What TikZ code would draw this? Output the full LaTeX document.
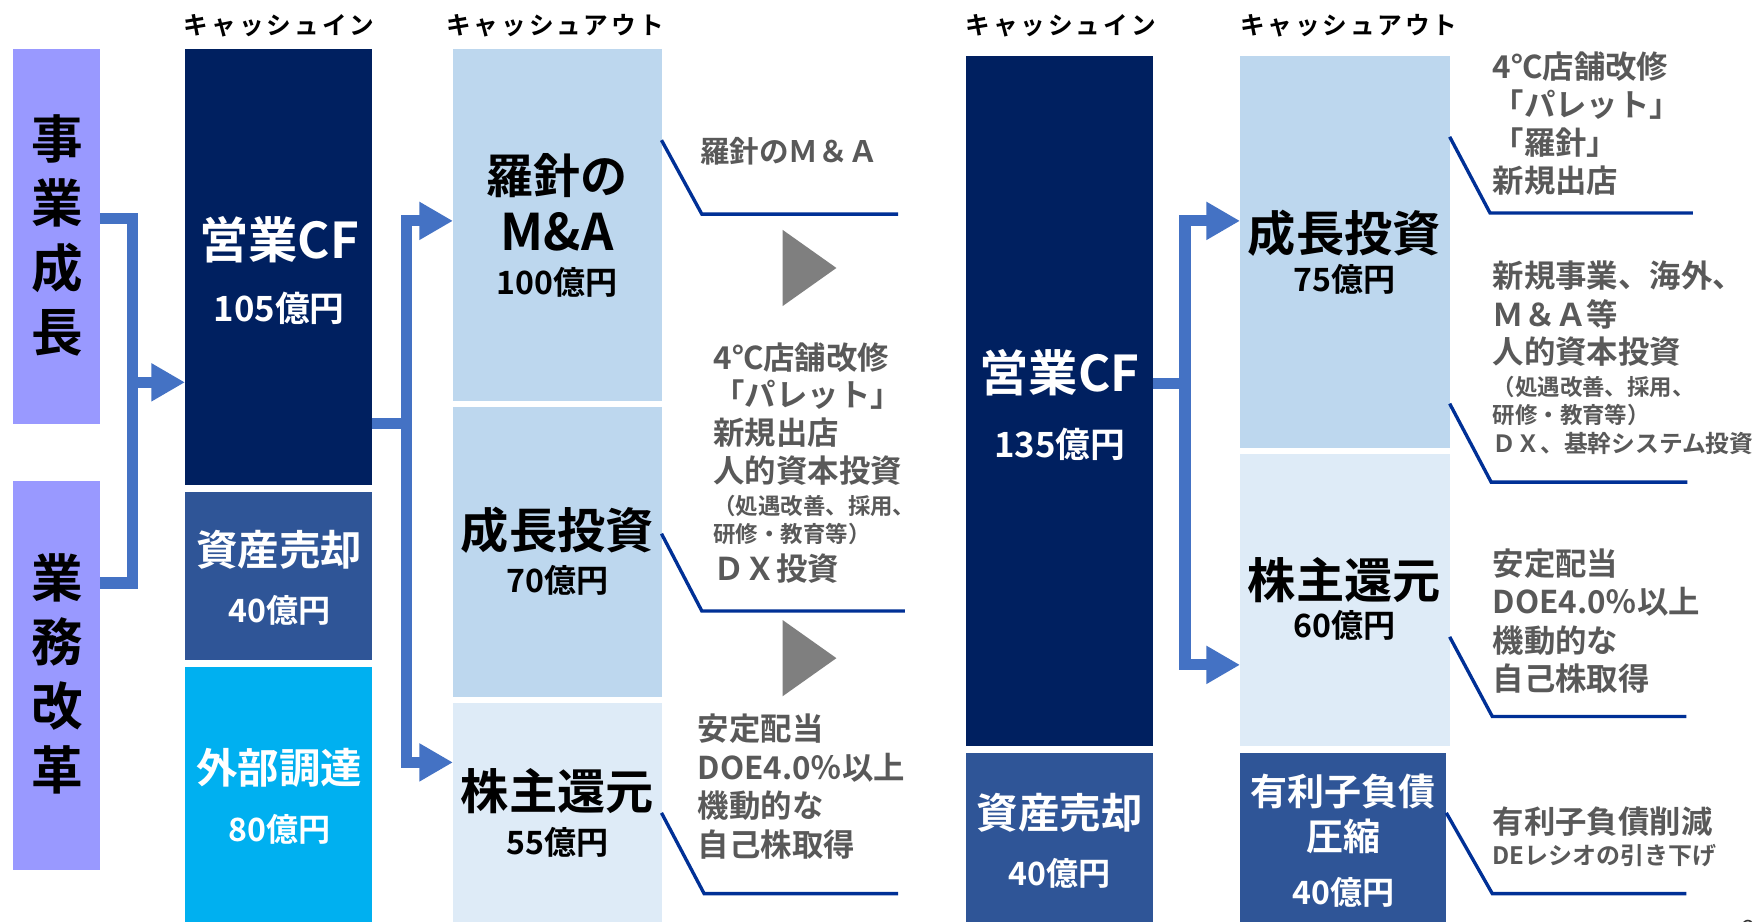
\documentclass[tikz,border=0pt]{standalone}
\usepackage{fontspec}
\setmainfont{Noto Sans CJK JP}[BoldFont={Noto Sans CJK JP Bold}]
\usetikzlibrary{arrows.meta}
\definecolor{purp}{RGB}{153,153,255}
\definecolor{navy}{RGB}{0,32,96}
\definecolor{midb}{RGB}{47,85,151}
\definecolor{cyanb}{RGB}{0,176,240}
\definecolor{lblue}{RGB}{189,215,238}
\definecolor{llblue}{RGB}{222,235,247}
\definecolor{connc}{RGB}{68,114,196}
\definecolor{calloutc}{RGB}{0,48,150}
\definecolor{grayt}{RGB}{89,89,89}
\definecolor{trig}{RGB}{127,127,127}
\newcommand\fsz[1]{\fontsize{#1pt}{#1pt}\selectfont}
\newcommand\mkbox[6]{%
  \pgfmathsetmacro\bw{(#4-#2)/2}%
  \pgfmathsetmacro\bh{(#5-#3)/2}%
  \node[fill=#6, draw=none, minimum width=\bw pt, minimum height=\bh pt, inner sep=0pt, outer sep=0pt] (#1) at ({(#2+#4)/2},{(#3+#5)/2}) {};}
\tikzset{
  conn/.style={draw=connc, line width=5pt, line join=miter},
  tip/.style={-{Triangle[length=15pt,width=16pt]}},
  callout/.style={draw=calloutc, line width=1.5pt},
  hdr/.style={inner sep=0pt, font=\bfseries\fsz{11}\addfontfeatures{LetterSpace=12}},
  wt/.style={inner sep=0pt, text=white},
  bt/.style={inner sep=0pt, text=black},
  gt/.style={inner sep=0pt, text=grayt, anchor=west, font=\bfseries\fsz{14}},
  gs/.style={inner sep=0pt, text=grayt, anchor=west, font=\bfseries\fsz{10}},
  vt/.style={inner sep=0pt, text=black, align=center, font=\bfseries\fontsize{23pt}{28.6pt}\selectfont},
}
\begin{document}
\begin{tikzpicture}[x=0.5pt,y=-0.5pt]
\fill[white] (0,0) rectangle (1568,821.5);
\useasboundingbox (0,0) rectangle (1568,821.5);
% headers
\node[hdr] (h1) at (249,23) {キャッシュイン};
\node[hdr] (h2) at (495,23) {キャッシュアウト};
\node[hdr] (h3) at (946,23) {キャッシュイン};
\node[hdr] (h4) at (1203,23) {キャッシュアウト};
% boxes
\mkbox{ja}{12}{44}{89}{378}{purp}
\mkbox{gk}{12}{429}{89}{776}{purp}
\mkbox{cf1}{165}{44}{332}{433}{navy}
\mkbox{sb1}{165}{439}{332}{589}{midb}
\mkbox{gb1}{165}{595}{332}{822}{cyanb}
\mkbox{ma}{404}{44}{590}{358}{lblue}
\mkbox{gi1}{404}{363}{590}{622}{lblue}
\mkbox{sh1}{404}{627}{590}{822}{llblue}
\mkbox{cf2}{862}{50}{1028}{665}{navy}
\mkbox{sb2}{862}{672}{1028}{822}{midb}
\mkbox{gi2}{1106}{50}{1293}{400}{lblue}
\mkbox{sh2}{1106}{405}{1293}{665}{llblue}
\mkbox{db}{1106}{672}{1290}{822}{midb}
% vertical labels
\node[vt] (tja) at (51,210) {事\\業\\成\\長};
\node[vt] (tgk) at (51,601) {業\\務\\改\\革};
% left cash in texts
\node[wt, font=\bfseries\fsz{22}] (tcf1) at (249,214) {営業CF};
\node[wt, font=\bfseries\fsz{15.5}] (tcf1v) at (249,275) {105億円};
\node[wt, font=\bfseries\fsz{18.5}] (tsb1) at (249,490) {資産売却};
\node[wt, font=\bfseries\fsz{14.3}] (tsb1v) at (249,544) {40億円};
\node[wt, font=\bfseries\fsz{18.5}] (tgb1) at (249,685) {外部調達};
\node[wt, font=\bfseries\fsz{14.3}] (tgb1v) at (249,740) {80億円};
% left cash out texts
\node[bt, font=\bfseries\fsz{21}] (tma1) at (497,157) {羅針の};
\node[bt, font=\bfseries\fsz{22.5}] (tma2) at (497,207) {M\&A};
\node[bt, font=\bfseries\fsz{14.3}] (tma3) at (497,252) {100億円};
\node[bt, font=\bfseries\fsz{21.5}] (tgi1) at (497,473) {成長投資};
\node[bt, font=\bfseries\fsz{14.3}] (tgi1v) at (497,518) {70億円};
\node[bt, font=\bfseries\fsz{21.5}] (tsh1) at (497,706) {株主還元};
\node[bt, font=\bfseries\fsz{14.3}] (tsh1v) at (497,751) {55億円};
% right cash in texts
\node[wt, font=\bfseries\fsz{22}] (tcf2) at (945,332) {営業CF};
\node[wt, font=\bfseries\fsz{15.5}] (tcf2v) at (945,396) {135億円};
\node[wt, font=\bfseries\fsz{18.5}] (tsb2) at (945,725) {資産売却};
\node[wt, font=\bfseries\fsz{14.3}] (tsb2v) at (945,779) {40億円};
% right cash out texts
\node[bt, font=\bfseries\fsz{21.5}] (tgi2) at (1199,208) {成長投資};
\node[bt, font=\bfseries\fsz{14.3}] (tgi2v) at (1199,249) {75億円};
\node[bt, font=\bfseries\fsz{21.5}] (tsh2) at (1199,517) {株主還元};
\node[bt, font=\bfseries\fsz{14.3}] (tsh2v) at (1199,558) {60億円};
\node[wt, font=\bfseries\fsz{16.5}] (tdb1) at (1198,706) {有利子負債};
\node[wt, font=\bfseries\fsz{16.5}] (tdb2) at (1198,746) {圧縮};
\node[wt, font=\bfseries\fsz{14.3}] (tdb3) at (1198,796) {40億円};
% connectors
\draw[conn] (ja.east |- 0,195) -- (118,195) -- (118,520) -- (gk.east |- 0,520);
\draw[conn,tip] (118,341) -- (cf1.west |- 0,341);
\draw[conn] (cf1.east |- 0,378) -- (362.5,378);
\draw[conn,tip] (362.5,680) -- (362.5,197) -- (ma.west |- 0,197);
\draw[conn,tip] (362.5,197) -- (362.5,680) -- (sh1.west |- 0,680);
\draw[conn] (cf2.east |- 0,342) -- (1057,342);
\draw[conn,tip] (1057,593) -- (1057,197) -- (gi2.west |- 0,197);
\draw[conn,tip] (1057,197) -- (1057,593) -- (sh2.west |- 0,593);
% gray triangles
\fill[trig] (698,205) -- (746,239) -- (698,273) -- cycle;
\fill[trig] (698,553) -- (746,587) -- (698,621) -- cycle;
% callout lines
\coordinate (e1) at (801,191);
\coordinate (e2) at (807,545);
\coordinate (e3) at (801,797);
\coordinate (e4) at (1510,190);
\coordinate (e5) at (1505,430);
\coordinate (e6) at (1504,639);
\coordinate (e7) at (1504,797);
\draw[callout] (ma.east |- 0,125) -- (626,191) -- (e1);
\draw[callout] (gi1.east |- 0,476) -- (626,545) -- (e2);
\draw[callout] (sh1.east |- 0,725) -- (628,797) -- (e3);
\draw[callout] (gi2.east |- 0,122) -- (1329,190) -- (e4);
\draw[callout] (gi2.east |- 0,360) -- (1330,430) -- (e5);
\draw[callout] (sh2.east |- 0,568) -- (1331,639) -- (e6);
\draw[callout] (db.east |- 0,725) -- (1331,797) -- (e7);
% callout texts left
\node[gt, font=\bfseries\fsz{13.2}] (c1) at (624,135) {羅針のＭ＆Ａ};
\node[gt] (c2a) at (636,319) {4℃店舗改修};
\node[gt] (c2b) at (636,352) {「パレット」};
\node[gt] (c2c) at (636,386) {新規出店};
\node[gt] (c2d) at (636,420) {人的資本投資};
\node[gs] (c2e) at (636,451) {（処遇改善、採用、};
\node[gs] (c2f) at (636,476) {研修・教育等）};
\node[gt] (c2g) at (636,507) {ＤＸ投資};
\node[gt] (c3a) at (622,650) {安定配当};
\node[gt] (c3b) at (622,685) {DOE4.0％以上};
\node[gt] (c3c) at (622,719) {機動的な};
\node[gt] (c3d) at (622,753) {自己株取得};
% callout texts right
\node[gt] (c4a) at (1331,59) {4℃店舗改修};
\node[gt] (c4b) at (1331,93) {「パレット」};
\node[gt] (c4c) at (1331,127) {「羅針」};
\node[gt] (c4d) at (1331,161) {新規出店};
\node[gt] (c5a) at (1331,246) {新規事業、海外、};
\node[gt] (c5b) at (1331,280) {Ｍ＆Ａ等};
\node[gt] (c5c) at (1331,314) {人的資本投資};
\node[gs] (c5d) at (1331,345) {（処遇改善、採用、};
\node[gs] (c5e) at (1331,370) {研修・教育等）};
\node[gs, font=\bfseries\fsz{10.6}] (c5f) at (1331,396) {ＤＸ、基幹システム投資};
\node[gt] (c6a) at (1331,503) {安定配当};
\node[gt] (c6b) at (1331,537) {DOE4.0％以上};
\node[gt] (c6c) at (1331,571) {機動的な};
\node[gt] (c6d) at (1331,605) {自己株取得};
\node[gt] (c7a) at (1331,733) {有利子負債削減};
\node[gs, font=\bfseries\fsz{10.7}] (c7b) at (1331,763) {DEレシオの引き下げ};
% page number
\node[inner sep=0pt, font=\fsz{10}, text=black!80] (pg) at (1560,828) {3};
\end{tikzpicture}
\end{document}
